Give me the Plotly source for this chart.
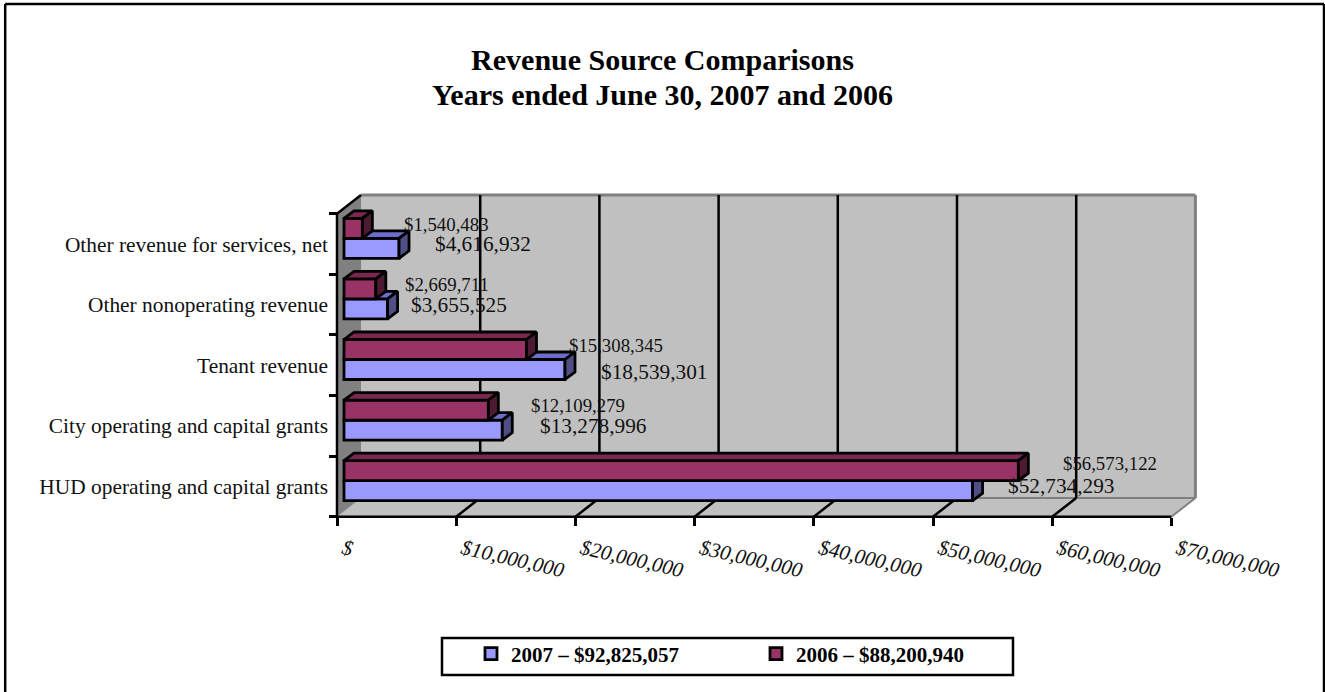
import plotly.graph_objects as go

# Revenue by source, listed from the bottom of the chart upward
categories = [
    "HUD operating and capital grants",
    "City operating and capital grants",
    "Tenant revenue",
    "Other nonoperating revenue",
    "Other revenue for services, net",
]
revenue_2007 = [52734293, 13278996, 18539301, 3655525, 4616932]
revenue_2006 = [56573122, 12109279, 15308345, 2669711, 1540483]
legend_2007 = "2007 – $92,825,057"
legend_2006 = "2006 – $88,200,940"
title_lines = ["Revenue Source Comparisons", "Years ended June 30, 2007 and 2006"]
x_tick_values = [0, 10000000, 20000000, 30000000, 40000000, 50000000, 60000000, 70000000]
x_tick_labels = ["$", "$10,000,000", "$20,000,000", "$30,000,000", "$40,000,000",
                 "$50,000,000", "$60,000,000", "$70,000,000"]

# Pixel offsets of the value labels from their bar end and slot centre
label_gap_2007 = [33, 36, 34, 21, 34]
label_gap_2006 = [43, 41, 41, 27, 40]
label_lift_2007 = [0, 0, -7, 0, 0]
label_lift_2006 = [23, 20, 20, 20, 20]

WIDTH, HEIGHT = 1325, 692
FONT = "Liberation Serif"

# Screen layout of the pseudo-3D box
ORIGIN_X, ORIGIN_Y = 337.0, 516.7
PX_PER_DOLLAR = 119.2 / 1e7
PX_PER_SLOT = 60.6


def dx(px):
    return px / PX_PER_DOLLAR


def dy(px):
    return px / PX_PER_SLOT


X_MAX = x_tick_values[-1]
Y_MAX = len(categories)
WALL_DX, WALL_DY = dx(24), dy(18.7)      # depth of the box
BAR_BASE = dx(7)                         # bars stand a little behind the front plane
FACE_DX, FACE_DY = dx(10), dy(7.5)       # depth of each bar
BAR_H = dy(20)
BLUE_Y = dy(26)                          # bar centres measured from the slot floor
MAROON_Y = dy(46)

x_range = [-ORIGIN_X / PX_PER_DOLLAR, (WIDTH - ORIGIN_X) / PX_PER_DOLLAR]
y_range = [-(HEIGHT - ORIGIN_Y) / PX_PER_SLOT, ORIGIN_Y / PX_PER_SLOT]

fig = go.Figure()


def poly_path(points):
    return "M" + " L".join(f"{x},{y}" for x, y in points) + " Z"


def box_shape(points, fill, line="rgba(0,0,0,0)", width=0):
    return dict(type="path", xref="x", yref="y", path=poly_path(points), layer="below",
                fillcolor=fill, line=dict(color=line, width=width))


def box_line(x0, y0, x1, y1, color="black", width=2.5):
    return dict(type="line", xref="x", yref="y", x0=x0, y0=y0, x1=x1, y1=y1, layer="below",
                line=dict(color=color, width=width))


GRAY_WALL = "#c0c0c0"
GRAY_SIDE = "#808080"
shapes = [
    # Floor, back wall and left wall
    box_shape([(0, 0), (X_MAX, 0), (X_MAX + WALL_DX, WALL_DY), (WALL_DX, WALL_DY)], GRAY_WALL),
    box_shape([(WALL_DX, WALL_DY), (X_MAX + WALL_DX, WALL_DY),
               (X_MAX + WALL_DX, Y_MAX + WALL_DY), (WALL_DX, Y_MAX + WALL_DY)], GRAY_WALL),
    box_shape([(0, 0), (WALL_DX, WALL_DY), (WALL_DX, Y_MAX + WALL_DY), (0, Y_MAX)], GRAY_SIDE),
    # Back wall and floor outlines
    box_line(WALL_DX, Y_MAX + WALL_DY, X_MAX + WALL_DX, Y_MAX + WALL_DY, GRAY_SIDE, 3),
    box_line(X_MAX + WALL_DX, Y_MAX + WALL_DY, X_MAX + WALL_DX, WALL_DY, GRAY_SIDE, 3),
    box_line(WALL_DX, WALL_DY, X_MAX + WALL_DX, WALL_DY, GRAY_SIDE, 2),
    box_line(X_MAX, 0, X_MAX + WALL_DX, WALL_DY, GRAY_SIDE, 2),
    box_line(0, 0, WALL_DX, WALL_DY, "#a0a0a0", 1),
]
# Gridlines run across the floor and up the back wall
for v in x_tick_values[1:-1]:
    shapes.append(box_line(v, 0, v + WALL_DX, WALL_DY))
    shapes.append(box_line(v + WALL_DX, WALL_DY, v + WALL_DX, Y_MAX + WALL_DY))
# Front axis lines
shapes.append(box_line(0, 0, X_MAX, 0))
shapes.append(box_line(0, 0, 0, Y_MAX))
shapes.append(box_line(0, Y_MAX, WALL_DX, Y_MAX + WALL_DY))

# Chart frame, open at the bottom edge
for x0, y0, x1, y1 in [(5.2 / WIDTH, 0, 5.2 / WIDTH, 1 - 4 / HEIGHT),
                       (5.2 / WIDTH, 1 - 4 / HEIGHT, 1324 / WIDTH, 1 - 4 / HEIGHT),
                       (1324 / WIDTH, 1 - 4 / HEIGHT, 1324 / WIDTH, 0)]:
    shapes.append(dict(type="line", xref="paper", yref="paper", x0=x0, y0=y0, x1=x1, y1=y1,
                       line=dict(color="black", width=2.5)))
# Legend box
shapes.append(dict(type="rect", xref="paper", yref="paper",
                   x0=442 / WIDTH, x1=1013 / WIDTH,
                   y0=1 - 675 / HEIGHT, y1=1 - 638 / HEIGHT,
                   line=dict(color="black", width=2.5), fillcolor="white"))


def add_series(values, name, centre, front, top, side, xaxis, yaxis):
    y_positions = [i + centre for i in range(len(values))]
    fig.add_trace(go.Bar(
        x=values, y=y_positions, base=BAR_BASE, width=BAR_H, orientation="h", name=name,
        marker=dict(color=front, line=dict(color="black", width=2.8)),
        xaxis=xaxis, yaxis=yaxis, hoverinfo="skip",
    ))
    for value, yc in zip(values, y_positions):
        end = BAR_BASE + value
        low, high = yc - BAR_H / 2, yc + BAR_H / 2
        faces = [
            (top, [BAR_BASE, end, end + FACE_DX, BAR_BASE + FACE_DX, BAR_BASE],
             [high, high, high + FACE_DY, high + FACE_DY, high]),
            (side, [end, end + FACE_DX, end + FACE_DX, end, end],
             [low, low + FACE_DY, high + FACE_DY, high, low]),
        ]
        for colour, xs, ys in faces:
            fig.add_trace(go.Scatter(
                x=xs, y=ys, mode="lines", fill="toself", fillcolor=colour,
                line=dict(color="black", width=2.8), showlegend=False, hoverinfo="skip",
                xaxis=xaxis, yaxis=yaxis,
            ))


add_series(revenue_2007, legend_2007, BLUE_Y, "#9999ff", "#6d6dcc", "#4f4f85", "x", "y")
# The 2006 bars sit on an overlaid pair of axes so they paint over the 2007 bar tops
add_series(revenue_2006, legend_2006, MAROON_Y, "#993366", "#7a2850", "#4d1a33", "x2", "y2")

annotations = [dict(
    x=0.5, y=1 - 94 / HEIGHT, xref="paper", yref="paper", text=f"<b>{title_lines[1]}</b>",
    showarrow=False, xanchor="center", yanchor="middle",
    font=dict(family=FONT, size=30, color="black"),
)]
for i, (v07, v06) in enumerate(zip(revenue_2007, revenue_2006)):
    annotations.append(dict(
        x=BAR_BASE + v07, y=i + 0.5, xref="x", yref="y", text=f"${v07:,}", showarrow=False,
        xanchor="left", yanchor="middle", xshift=label_gap_2007[i], yshift=label_lift_2007[i],
        font=dict(family=FONT, size=21.3, color="#111111"),
    ))
    annotations.append(dict(
        x=BAR_BASE + v06, y=i + 0.5, xref="x", yref="y", text=f"${v06:,}", showarrow=False,
        xanchor="left", yanchor="middle", xshift=label_gap_2006[i], yshift=label_lift_2006[i],
        font=dict(family=FONT, size=18.8, color="#111111"),
    ))

fig.update_layout(
    width=WIDTH, height=HEIGHT,
    autosize=False,
    margin=dict(l=0, r=0, t=0, b=0),
    paper_bgcolor="white", plot_bgcolor="white",
    font=dict(family=FONT, color="black"),
    title=dict(
        text=f"<b>{title_lines[0]}</b>",
        x=0.5, xanchor="center", y=1 - 59 / HEIGHT, yanchor="middle",
        font=dict(family=FONT, size=30, color="black"),
    ),
    barmode="overlay",
    shapes=shapes,
    annotations=annotations,
    showlegend=True,
    legend=dict(
        orientation="h", x=471 / WIDTH, xanchor="left", y=1 - 654 / HEIGHT, yanchor="middle",
        font=dict(family=FONT, size=21, color="black", weight="bold"),
        bgcolor="rgba(0,0,0,0)", borderwidth=0,
        entrywidthmode="pixels", entrywidth=240,
        traceorder="normal",
    ),
    xaxis=dict(
        domain=[0, 1], range=x_range, anchor="free", position=(HEIGHT - ORIGIN_Y) / HEIGHT,
        showgrid=False, zeroline=False, showline=False, fixedrange=True,
        tickmode="array", tickvals=x_tick_values, ticktext=x_tick_labels, tickangle=13,
        ticks="outside", ticklen=8, tickwidth=2.5, tickcolor="black",
        ticklabelstandoff=3, ticklabelshift=6,
        tickfont=dict(family=FONT, size=21, color="#111111", style="italic"),
    ),
    yaxis=dict(
        domain=[0, 1], range=y_range, anchor="free", position=ORIGIN_X / WIDTH,
        showgrid=False, zeroline=False, showline=False, fixedrange=True,
        tickmode="array", tickvals=[i + 0.5 for i in range(len(categories))],
        ticktext=categories, ticks="", ticklabelstandoff=9,
        tickfont=dict(family=FONT, size=21.4, color="#111111"),
        minor=dict(tickmode="array", tickvals=list(range(Y_MAX + 1)), ticks="outside",
                   ticklen=8, tickwidth=2.5, tickcolor="black", showgrid=False),
    ),
    xaxis2=dict(domain=[0, 1], range=x_range, overlaying="x", visible=False, fixedrange=True),
    yaxis2=dict(domain=[0, 1], range=y_range, overlaying="y", visible=False, fixedrange=True),
)

fig.write_html("out.html", config={"displayModeBar": False})
